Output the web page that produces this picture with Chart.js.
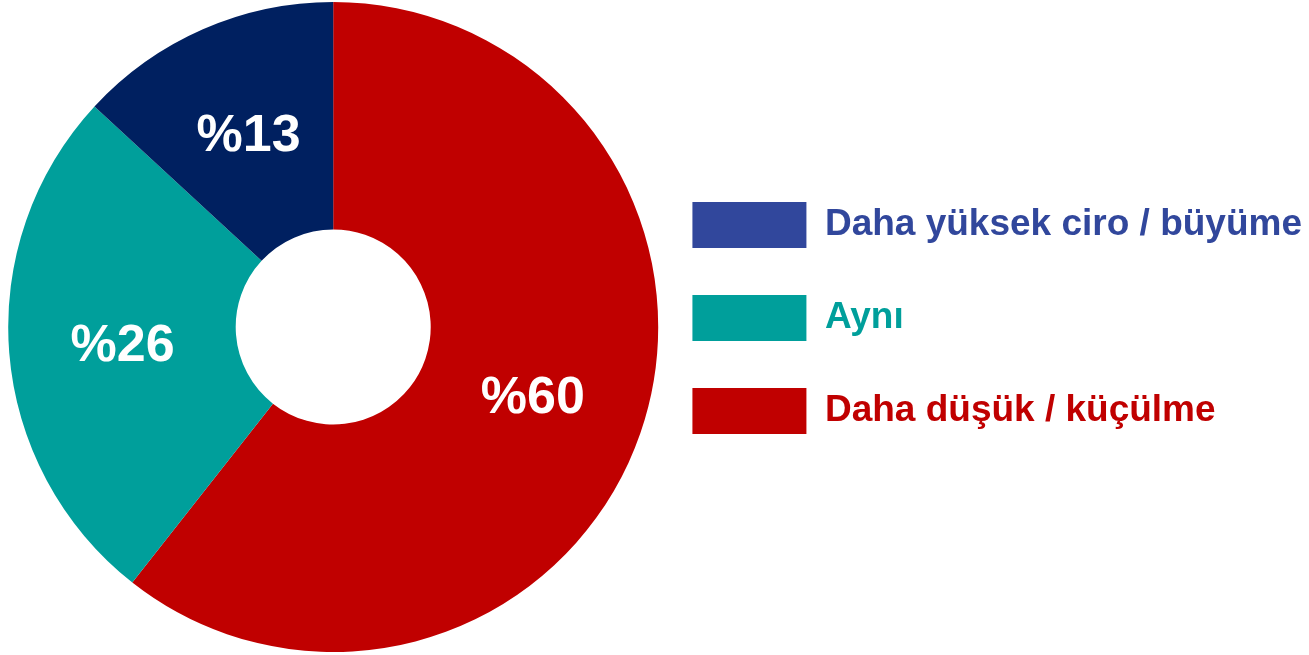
<!DOCTYPE html>
<html>
<head>
<meta charset="utf-8">
<script src="https://cdn.jsdelivr.net/npm/chart.js@4.4.0/dist/chart.umd.min.js"></script>
<style>
  html, body { margin: 0; padding: 0; background: #fff; }
  #wrap { width: 1309px; height: 655px; position: relative; }
</style>
</head>
<body>
<div id="wrap"><canvas id="ciro"></canvas></div>
<script>
// slices go clockwise from 12 o'clock, legend is shown reversed
var labels = ['Daha düşük / küçülme', 'Aynı', 'Daha yüksek ciro / büyüme'];
var values = [60, 26, 13];
var sliceColors = ['#C00000', '#009F9B', '#002060'];
var legendColors = ['#C00000', '#009F9B', '#31479C'];

var fontFamily = '"Liberation Sans", Arial, Helvetica, sans-serif';
var legendSize = 37;

// width of the longest legend text, used to push the legend into place
var mctx = document.createElement('canvas').getContext('2d');
mctx.font = 'bold ' + legendSize + 'px ' + fontFamily;
var longest = Math.max.apply(null, labels.map(function (t) { return mctx.measureText(t).width; }));
var legendPad = 29;
var rightPad = Math.round(1309 - 663 - (legendPad + 114 + legendSize / 2 + longest + 10));

var pctPlugin = {
  id: 'pctLabels',
  afterDatasetsDraw: function (chart) {
    var ctx = chart.ctx;
    var meta = chart.getDatasetMeta(0);
    ctx.save();
    ctx.font = 'bold 52px ' + fontFamily;
    ctx.fillStyle = '#ffffff';
    ctx.textAlign = 'center';
    ctx.textBaseline = 'middle';
    meta.data.forEach(function (arc, i) {
      var p = arc.tooltipPosition();
      ctx.fillText('%' + values[i], p.x, p.y + 3);
    });
    ctx.restore();
  }
};

var ciro = document.getElementById('ciro').getContext('2d');
var ciroChart = new Chart(ciro, {
  type: 'doughnut',
  data: {
    labels: labels,
    datasets: [{
      data: values,
      backgroundColor: sliceColors,
      borderWidth: 0
    }]
  },
  options: {
    responsive: true,
    maintainAspectRatio: false,
    animation: false,
    cutout: '30%',
    layout: {
      padding: { left: 3, top: 2, bottom: 3, right: rightPad }
    },
    plugins: {
      tooltip: { enabled: false },
      legend: {
        display: true,
        position: 'right',
        reverse: true,
        labels: {
          boxWidth: 114,
          boxHeight: 46,
          padding: legendPad,
          font: { family: fontFamily, size: legendSize, weight: 'bold', lineHeight: '64px' },
          generateLabels: function (chart) {
            return labels.map(function (t, i) {
              return {
                text: [t],
                fillStyle: legendColors[i],
                strokeStyle: legendColors[i],
                fontColor: legendColors[i],
                lineWidth: 0,
                hidden: false,
                index: i
              };
            });
          }
        }
      }
    }
  },
  plugins: [pctPlugin]
});
</script>
</body>
</html>
